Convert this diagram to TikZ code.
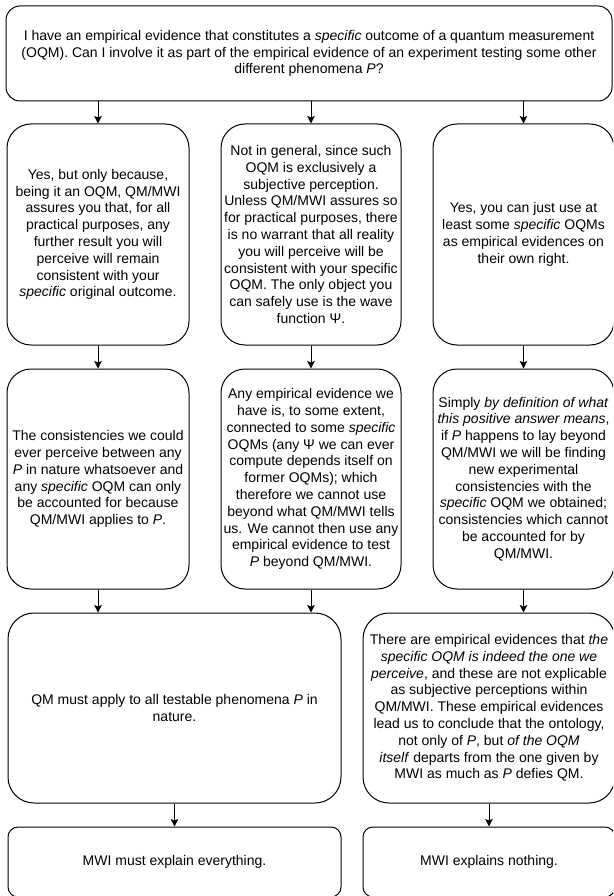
\documentclass[tikz,border=0pt]{standalone}
\usepackage{fontspec}
\setmainfont{Liberation Sans}
\usetikzlibrary{arrows.meta}
\tikzset{
  box/.style={draw=black, line width=1pt, inner sep=0pt, align=center,
    font=\fontsize{14}{16.8}\selectfont, text=black},
  arr/.style={draw=black, line width=1pt, -{Stealth[length=7.5pt,width=7.5pt,inset=1.5pt]}},
}
\begin{document}
\begin{tikzpicture}[x=1pt,y=-1pt]
\useasboundingbox (0,0) rectangle (613,896);
\clip (0,0) rectangle (613,896);

\node[box, rounded corners=14pt, minimum width=606pt, minimum height=95pt] (top) at (309,53.5)
 {I have an empirical evidence that constitutes a \textit{specific} outcome of a quantum measurement\\
  (OQM). Can I involve it as part of the empirical evidence of an experiment testing some other\\
  different phenomena \textit{P}?};

\node[box, rounded corners=24pt, minimum width=182pt, minimum height=221pt] (l2) at (98,234.5)
 {Yes, but only because,\\being it an OQM, QM/MWI\\assures you that, for all\\practical purposes, any\\further result you will\\perceive will remain\\consistent with your\\\textit{specific} original outcome.};

\node[box, rounded corners=24pt, minimum width=180pt, minimum height=221pt] (m2) at (311,234.5)
 {Not in general, since such\\OQM is exclusively a\\subjective perception.\\Unless QM/MWI assures so\\for practical purposes, there\\is no warrant that all reality\\you will perceive will be\\consistent with your specific\\OQM. The only object you\\can safely use is the wave\\function Ψ.};

\node[box, rounded corners=24pt, minimum width=181pt, minimum height=221pt] (r2) at (523.5,234.5)
 {Yes, you can just use at\\least some \textit{specific} OQMs\\as empirical evidences on\\their own right.};

\node[box, rounded corners=24pt, minimum width=182pt, minimum height=220pt] (l3) at (98,479)
 {The consistencies we could\\ever perceive between any\\\textit{P} in nature whatsoever and\\any \textit{specific} OQM can only\\be accounted for because\\QM/MWI applies to \textit{P}.};

\node[box, rounded corners=24pt, minimum width=180pt, minimum height=220pt] (m3) at (311,479)
 {Any empirical evidence we\\have is, to some extent,\\connected to some \textit{specific}\\OQMs (any Ψ we can ever\\compute depends itself on\\former OQMs); which\\therefore we cannot use\\beyond what QM/MWI tells\\us. We cannot then use any\\empirical evidence to test\\\textit{P} beyond QM/MWI.};

\node[box, rounded corners=24pt, minimum width=181pt, minimum height=220pt] (r3) at (523.5,479)
 {Simply \textit{by definition of what}\\\textit{this positive answer means},\\if \textit{P} happens to lay beyond\\QM/MWI we will be finding\\new experimental\\consistencies with the\\\textit{specific} OQM we obtained;\\consistencies which cannot\\be accounted for by\\QM/MWI.};

\node[box, rounded corners=26pt, minimum width=333pt, minimum height=190pt] (l4) at (174.5,708)
 {QM must apply to all testable phenomena \textit{P} in\\nature.};

\node[box, rounded corners=26pt, minimum width=252pt, minimum height=190pt] (r4) at (489,708)
 {There are empirical evidences that \textit{the}\\\textit{specific OQM is indeed the one we}\\\textit{perceive}, and these are not explicable\\as subjective perceptions within\\QM/MWI. These empirical evidences\\lead us to conclude that the ontology,\\not only of \textit{P}, but \textit{of the OQM}\\\textit{itself} departs from the one given by\\MWI as much as \textit{P} defies QM.};

\node[box, rounded corners=10pt, minimum width=333pt, minimum height=70pt] (l5) at (174.5,862)
 {MWI must explain everything.};

\node[box, rounded corners=10pt, minimum width=252pt, minimum height=70pt] (r5) at (489,862)
 {MWI explains nothing.};

\draw[arr] (top.south -| l2.north) -- (l2.north);
\draw[arr] (top.south -| m2.north) -- (m2.north);
\draw[arr] (top.south -| r2.north) -- (r2.north);
\draw[arr] (l2.south) -- (l3.north);
\draw[arr] (m2.south) -- (m3.north);
\draw[arr] (r2.south) -- (r3.north);
\draw[arr] (l3.south) -- (l3.south |- l4.north);
\draw[arr] (m3.south) -- (m3.south |- l4.north);
\draw[arr] (r3.south) -- (r3.south |- r4.north);
\draw[arr] (l4.south) -- (l5.north);
\draw[arr] (r4.south) -- (r5.north);
\end{tikzpicture}
\end{document}
